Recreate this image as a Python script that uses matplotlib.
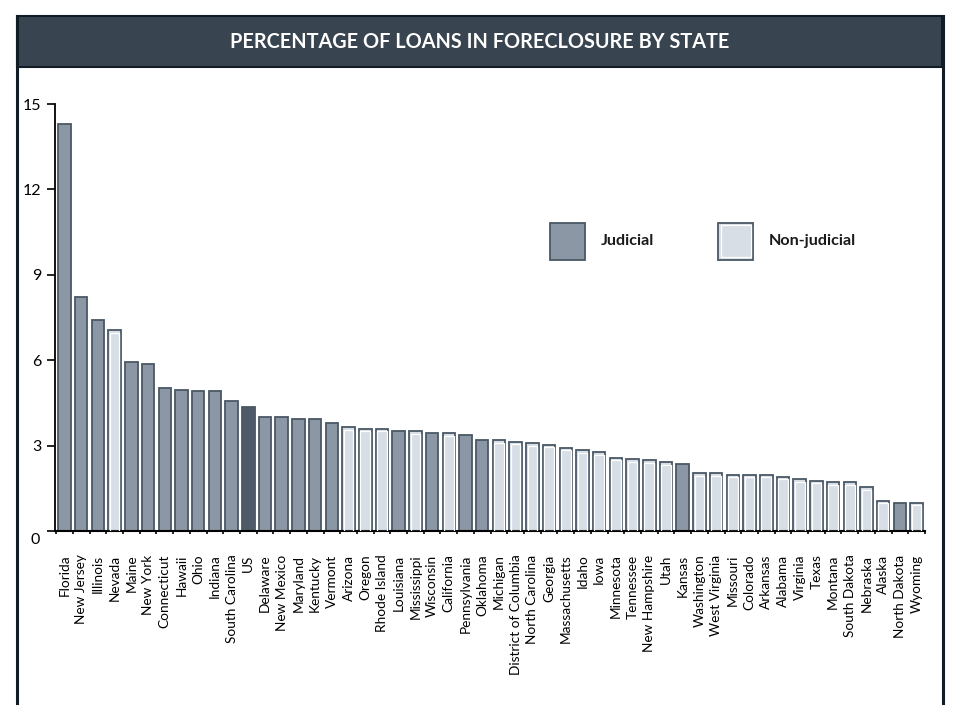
import matplotlib
matplotlib.use("Agg")
import matplotlib.pyplot as plt
from matplotlib.patches import Rectangle
from matplotlib.lines import Line2D
import numpy as np

states = ["Florida", "New Jersey", "Illinois", "Nevada", "Maine", "New York",
          "Connecticut", "Hawaii", "Ohio", "Indiana", "South Carolina", "US",
          "Delaware", "New Mexico", "Maryland", "Kentucky", "Vermont", "Arizona",
          "Oregon", "Rhode Island", "Louisiana", "Mississippi", "Wisconsin",
          "California", "Pennsylvania", "Oklahoma", "Michigan",
          "District of Columbia", "North Carolina", "Georgia", "Massachusetts",
          "Idaho", "Iowa", "Minnesota", "Tennessee", "New Hampshire", "Utah",
          "Kansas", "Washington", "West Virginia", "Missouri", "Colorado",
          "Arkansas", "Alabama", "Virginia", "Texas", "Montana", "South Dakota",
          "Nebraska", "Alaska", "North Dakota", "Wyoming"]

values = [14.30, 8.21, 7.40, 7.05, 5.92, 5.87,
          5.01, 4.96, 4.91, 4.91, 4.56, 4.35,
          3.99, 3.99, 3.95, 3.95, 3.80, 3.64,
          3.59, 3.59, 3.50, 3.50, 3.44,
          3.44, 3.38, 3.18, 3.18,
          3.14, 3.08, 3.03, 2.92,
          2.83, 2.77, 2.57, 2.53, 2.48, 2.42,
          2.37, 2.02, 2.02, 1.97, 1.97,
          1.97, 1.91, 1.82, 1.76, 1.71, 1.71,
          1.53, 1.06, 1.00, 1.00]

# J = judicial, N = non-judicial, U = US average
process = ["J", "J", "J", "N", "J", "J",
           "J", "J", "J", "J", "J", "U",
           "J", "J", "J", "J", "J", "N",
           "N", "N", "J", "N", "J",
           "N", "J", "J", "N",
           "N", "N", "N", "N",
           "N", "N", "N", "N", "N", "N",
           "J", "N", "N", "N", "N",
           "N", "N", "N", "N", "N", "N",
           "N", "N", "J", "N"]

yticks = [0, 3, 6, 9, 12, 15]
title = "PERCENTAGE OF LOANS IN FORECLOSURE BY STATE"
legend_labels = ["Judicial", "Non-judicial"]

C_J = "#8b97a4"
C_N = "#d8dee5"
C_U = "#4e5a67"
C_EDGE = "#4a5866"
C_DARK = "#38444f"
C_BORDER = "#111c24"

plt.rcParams['font.family'] = ['Lato', 'DejaVu Sans']

W, H = 960, 720
fig = plt.figure(figsize=(9.6, 7.2), dpi=100)
fig.patch.set_facecolor("white")

def fx(px):
    return px / W

def fy(py):
    return 1 - py / H

# Frame and title bar
fig.add_artist(Rectangle((fx(17), fy(67)), fx(942) - fx(17), fy(16) - fy(67),
                         transform=fig.transFigure, facecolor=C_DARK,
                         edgecolor=C_BORDER, linewidth=1.5, zorder=1))
for xs, ys in [([17, 17], [16, 703]), ([942.5, 942.5], [16, 703])]:
    fig.add_artist(Line2D([fx(x) for x in xs], [fy(y) for y in ys],
                          transform=fig.transFigure, color=C_BORDER, linewidth=2.2))
fig.text(0.5, fy(42), title, color="white", fontsize=14.3, fontweight="bold",
         ha="center", va="center")

ax = fig.add_axes([fx(55), fy(531), fx(925) - fx(55), fy(104) - fy(531)])
x = np.arange(len(states))
fills = [C_J if p == "J" else (C_N if p == "N" else C_U) for p in process]
ax.bar(x, values, width=0.75, color=fills, edgecolor=C_EDGE, linewidth=1.3, zorder=2)
nx = [xi for xi, p in zip(x, process) if p == "N"]
nv = [v for v, p in zip(values, process) if p == "N"]
ax.bar(nx, [v - 0.09 for v in nv], width=0.58, color="none", edgecolor="white",
       linewidth=0.9, zorder=3)

ax.set_xlim(-0.57, 51.47)
ax.set_ylim(0, 15)
for s in ["top", "right"]:
    ax.spines[s].set_visible(False)
ax.spines["left"].set_color("black")
ax.spines["left"].set_linewidth(1.3)
ax.spines["bottom"].set_color("black")
ax.spines["bottom"].set_linewidth(1.5)

ax.set_yticks(yticks)
ax.set_yticklabels(["" if t == 0 else str(t) for t in yticks])
ax.tick_params(axis="y", direction="out", length=6, width=1.2, pad=4,
               labelsize=11.5, colors="black")
ax.text(-1.77, -0.32, "0", ha="center", va="center", fontsize=11.5)

ax.set_xticks(x)
ax.set_xticklabels(states, rotation=90, va="top", ha="center", fontsize=9.8)
ax.tick_params(axis="x", length=0, pad=17)
ax.set_xticks(np.arange(-0.5, len(states), 1.0), minor=True)
ax.tick_params(axis="x", which="minor", direction="out", length=2.5, width=1.2)

# Legend
for (bx, tx, col, lab) in [(550, 601, C_J, legend_labels[0]),
                           (718, 769, C_N, legend_labels[1])]:
    fig.add_artist(Rectangle((fx(bx), fy(260)), fx(35), 37 / H,
                             transform=fig.transFigure, facecolor=col,
                             edgecolor=C_EDGE, linewidth=1.3))
    if col == C_N:
        fig.add_artist(Rectangle((fx(bx + 2.5), fy(257.5)), fx(30), 32 / H,
                                 transform=fig.transFigure, facecolor="none",
                                 edgecolor="white", linewidth=0.9))
    fig.text(fx(tx), fy(241), lab, fontsize=11.6, fontweight="bold",
             ha="left", va="center", color="#1a1a1a")

fig.savefig("out.png", dpi=100)
